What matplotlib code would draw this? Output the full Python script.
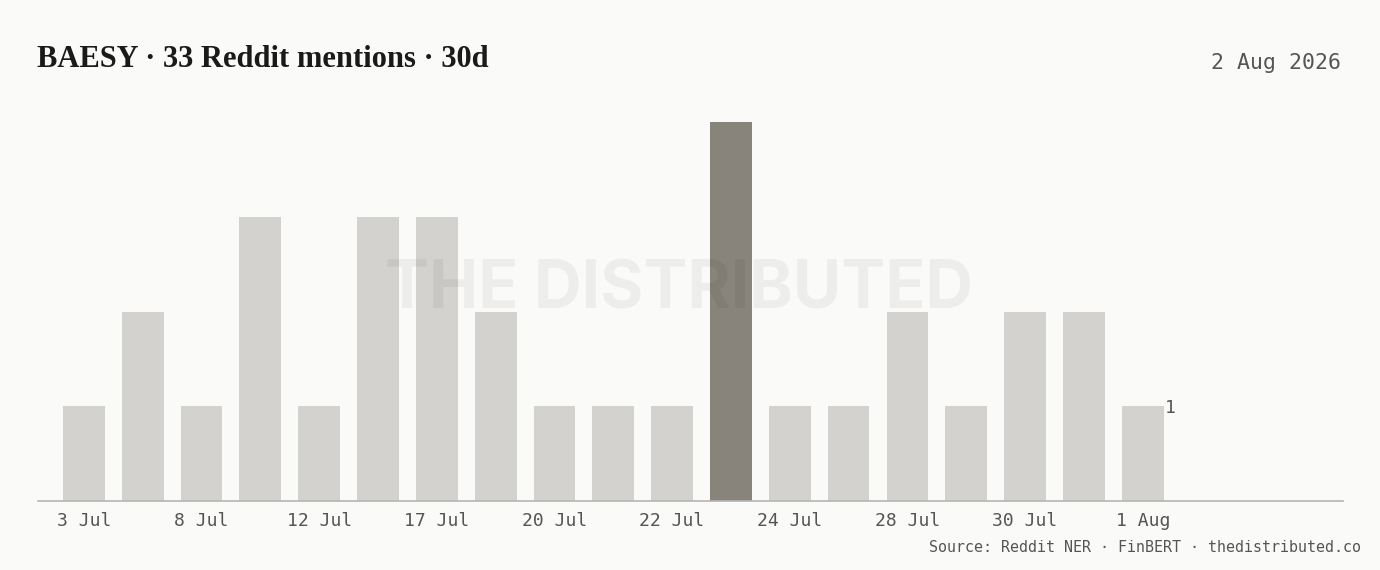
import matplotlib
matplotlib.use("Agg")
import matplotlib.pyplot as plt
import numpy as np

# daily Reddit mention counts (days with mentions only)
dates = ["3 Jul", "5 Jul", "8 Jul", "10 Jul", "12 Jul", "15 Jul", "17 Jul", "19 Jul",
         "20 Jul", "21 Jul", "22 Jul", "23 Jul", "24 Jul", "26 Jul", "28 Jul", "29 Jul",
         "30 Jul", "31 Jul", "1 Aug"]
mentions = [1, 2, 1, 3, 1, 3, 3, 2, 1, 1, 1, 4, 1, 1, 2, 1, 2, 2, 1]

BG = "#fafaf8"
BAR = "#d3d2ce"
PEAK = "#88837b"
TEXT = "#555555"
MONO = ["DejaVu Sans Mono"]

fig = plt.figure(figsize=(13.8, 5.7), dpi=100, facecolor=BG)
ax = fig.add_axes([0.0275, 0.121, 0.9455, 0.665])
ax.set_facecolor(BG)

x = np.arange(len(mentions))
peak = int(np.argmax(mentions))
colors = [PEAK if i == peak else BAR for i in range(len(mentions))]
ax.bar(x, mentions, width=0.71, color=colors, zorder=2)

ax.set_xlim(-0.78, 21.4)
ax.set_ylim(0, 4)

ax.set_xticks(x[::2])
ax.set_xticklabels(dates[::2], fontfamily=MONO, fontsize=13, color=TEXT)
ax.tick_params(axis="x", length=0, pad=8)
ax.set_yticks([])
for side in ["top", "right", "left"]:
    ax.spines[side].set_visible(False)
ax.spines["bottom"].set_color("#b5b5b2")
ax.spines["bottom"].set_linewidth(1.2)

# last value label
ax.text(x[-1] + 0.38, mentions[-1] - 0.02, str(mentions[-1]), ha="left", va="center",
        fontfamily=MONO, fontsize=13, color=TEXT, zorder=3)

# watermark
fig.text(0.492, 0.49, "THE DISTRIBUTED", ha="center", va="center", fontsize=47.5,
         fontweight="bold", family=["Inter", "DejaVu Sans"], color="#000000",
         alpha=0.05, zorder=5)

fig.text(0.027, 0.895, "BAESY · 33 Reddit mentions · 30d", ha="left", va="center",
         fontsize=22, fontweight="bold", family=["Liberation Serif", "DejaVu Serif"],
         color="#1a1a1a")
fig.text(0.972, 0.89, "2 Aug 2026", ha="right", va="center", fontsize=15.5,
         family=MONO, color=TEXT)
fig.text(0.986, 0.04, "Source: Reddit NER · FinBERT · thedistributed.co", ha="right",
         va="center", fontsize=10.8, family=MONO, color=TEXT)

fig.savefig("out.png", dpi=100, facecolor=BG)
